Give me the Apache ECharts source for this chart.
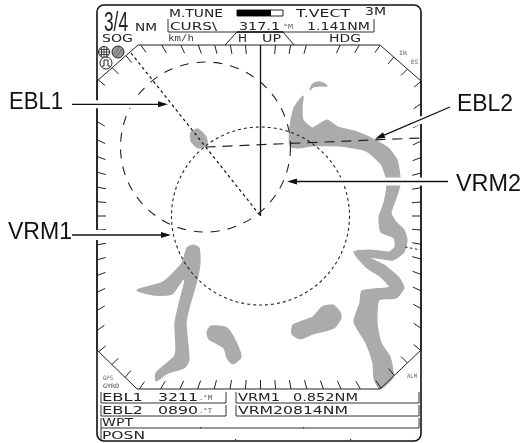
<!DOCTYPE html>
<html><head><meta charset="utf-8">
<style>html,body{margin:0;padding:0;background:#fff}#c{width:523px;height:443px}</style>
<script src="https://cdn.jsdelivr.net/npm/echarts@6/dist/echarts.min.js"></script>
</head><body><div id="c"></div>
<script>
// Land echoes (picture coordinates)
const landTop = [[310,90],[312,85],[317,82],[323,83],[327,86],[320,86],[313,87]];
const landRight = [[303,96],[302,107],[303,120],[312,128],[318,125],[327,120],[338,127],[357,132],[373,139],[388,148],[397,160],[400,177],[400,185],[396,198],[391,213],[396,222],[404,230],[407,240],[404,252],[393,260],[383,259],[368,257],[384,265],[399,278],[404,288],[396,298],[379,300],[377,323],[381,343],[390,357],[393,377],[380,389],[374,378],[373,363],[366,343],[354,322],[360,303],[362,291],[386,288],[390,287],[381,277],[366,267],[354,252],[370,250],[389,252],[395,247],[394,238],[381,232],[379,217],[384,203],[387,185],[386,177],[381,164],[366,151],[340,146],[312,146],[298,148],[290,146],[290,127],[294,108]];
const landLeft = [[137,290],[163,282],[182,263],[187,248],[193,245],[199,248],[200,263],[197,280],[189,308],[186,323],[189,360],[184,368],[168,373],[156,381],[156,373],[174,357],[176,350],[175,323],[180,300],[185,280],[183,279],[172,294],[153,295]];
const landHook = [[207,332],[211,326],[227,328],[236,342],[241,357],[233,364],[227,358],[224,348],[209,339]];
const landBlob = [[322,307],[333,305],[340,312],[341,318],[334,328],[313,334],[300,339],[292,334],[293,325],[313,317]];
const landIsle = [[191,132],[198,129],[206,137],[207,145],[198,148],[191,141]];
const lands = [landTop, landRight, landLeft, landHook, landBlob, landIsle];

// Radar geometry
const ownShip = [260.5, 216];
const ebl1Origin = [205.5, 147];
const vrm1Radius = 85;
const vrm2Radius = 89;
const octagon = [[138,45],[380,45],[421,81],[421,350],[380,389],[137,389],[97,350],[97,81]];
const tickBearings = [5,10,15,25,30,35,40,45,50,55,60,65,70,75,80,85,90,95,100,105,110,115,120,125,130,135,140,145,150,155,160,165,170,175,180,185,190,195,200,205,210,215,220,225,230,235,240,245,250,255,260,265,270,275,280,285,290,295,300,305,310,315,320,325,330,335,340,345,350,355];

// Lines: points, width, dash, colour
const lineItems = [
  {p:[[260.5,45],ownShip], w:1.3, c:'#111'},
  {p:[[131,53],ownShip], w:1.2, d:[3,3], c:'#111'},
  {p:[ebl1Origin,[420,138]], w:1.2, d:[10,7], c:'#222'},
  {p:[[405,247],[421,250]], w:1, d:[2.5,2.5], c:'#222'},
  {p:octagon.concat([octagon[0]]), w:1, c:'#222'},
  {p:[[225,45],[237,32],[283,32],[294,45]], w:1, c:'#222'},
  {p:[[237,32],[283,32]], w:1.6, c:'#111'},
  {p:[[168,19],[168,32],[374,32],[374,19]], w:1, c:'#333'},
  {p:[[101,392],[101,403],[226,403],[226,392]], w:1, c:'#333'},
  {p:[[101,405],[101,416],[226,416],[226,405]], w:1, c:'#333'},
  {p:[[236,392],[236,403],[419,403],[419,392]], w:1, c:'#333'},
  {p:[[236,405],[236,416],[419,416],[419,405]], w:1, c:'#333'},
  {p:[[101,418],[101,428],[419,428],[419,418]], w:1, c:'#333'},
  {p:[[101,428],[101,441]], w:1, c:'#333'}
];
// White breaks under the arrows
const halos = [
  {p:[[72,104.3],[158,104.3]], w:8},
  {p:[[72,235],[162,235]], w:10},
  {p:[[448,181.5],[300,181.5]], w:8},
  {p:[[440,112],[412,124]], w:7}
];
// Callout arrows
const arrows = [
  [[72,104.3],[168,104.3]],
  [[72,235],[171,235]],
  [[448,181.5],[287,181.5]],
  [[450,107],[375,139]]
];
// Text: string, left x, middle y, width, font size, family, colour
const MONO = '"DejaVu Sans Mono"', SANS = '"DejaVu Sans"', HELV = '"Liberation Sans"';
const textItems = [
  ['EBL1',9,103,54,23,HELV,'#111'],['EBL2',457,105,56,23,HELV,'#111'],
  ['VRM2',456,184.5,65,23,HELV,'#111'],['VRM1',8,233,64,23,HELV,'#111'],
  ['3/4',104,23,24,28,HELV,'#222'],['NM',135,28,22,10,SANS,'#222'],
  ['M.TUNE',169,14,54,11,SANS,'#222'],['T.VECT',296,14,54,11,SANS,'#222'],['3M',365,12,21,11,SANS,'#222'],
  ['CURS\\',170,27,47,11,SANS,'#222'],['317.1',239,27,41,11,SANS,'#222'],['°M',283,27,10,7,MONO,'#666'],['1.141NM',307,27,63,11,SANS,'#222'],
  ['SOG',102,39,31,11,SANS,'#222'],['km/h',168,39,26,8,MONO,'#444'],['H',238,39,9,11,SANS,'#222'],['UP',262,39,19,11,SANS,'#222'],['HDG',329,39,32,11,SANS,'#222'],
  ['IR',399,53,8,6,MONO,'#555'],['ES',411,62,7,6,MONO,'#555'],
  ['GPS',103,378,10,6,MONO,'#666'],['GYRO',103,386,16,6,MONO,'#444'],['ALM',407,376,10,6,MONO,'#666'],
  ['EBL1',102,398,41,11,SANS,'#222'],['3211',158,398,40,11,SANS,'#222'],['.°M',199,398,13,7,MONO,'#555'],
  ['EBL2',102,411,41,11,SANS,'#222'],['0890',158,411,40,11,SANS,'#222'],['.°T',199,411,13,7,MONO,'#555'],
  ['VRM1',238,398,42,11,SANS,'#222'],['0.852NM',293,398,65,11,SANS,'#222'],
  ['VRM20814NM',238,411,110,11,SANS,'#222'],
  ['WPT',102,423,31,11,SANS,'#222'],['POSN',102,436,43,11,SANS,'#222']
];
const dots = [[200,427],[303,427],[235,439],[350,439]];
const tuneBar = {frame:[[237,10],[283,16]], fill:[[237,10],[271,16]]};
const outerFrame = [[97,5],[421,441]];
const icons = [[104,52,5.5],[118,52,6],[106,63,6]];

const measure = document.createElement('canvas').getContext('2d');

function custom(z, data, render){
  return {type:'custom', coordinateSystem:'cartesian2d', silent:true, clip:false, z:z,
    data:data.map((_,i)=>[i,0]), renderItem:render};
}
function polyEl(api,pts,style){
  return {type:'polyline', shape:{points:pts.map(p=>api.coord(p))},
    style:Object.assign({fill:null,stroke:'#222',lineWidth:1},style)};
}
function tickEnd(b){
  const r = b*Math.PI/180, dx=Math.sin(r), dy=-Math.cos(r);
  let best=Infinity;
  for(let i=0;i<octagon.length;i++){
    const a=octagon[i], c=octagon[(i+1)%octagon.length];
    const ex=c[0]-a[0], ey=c[1]-a[1];
    const den=dx*ey-dy*ex; if(Math.abs(den)<1e-9) continue;
    const ax=a[0]-ownShip[0], ay=a[1]-ownShip[1];
    const t=(ax*ey-ay*ex)/den, u=(ax*dy-ay*dx)/den;
    if(t>0&&u>=-1e-6&&u<=1+1e-6&&t<best) best=t;
  }
  return [[ownShip[0]+dx*best,ownShip[1]+dy*best],[ownShip[0]+dx*(best-9),ownShip[1]+dy*(best-9)]];
}

const series = [
  custom(1, lands, (p,api)=>({type:'polygon',
    shape:{points:lands[p.dataIndex].map(q=>api.coord(q)), smooth:0.2},
    style:{fill:'#ababab',stroke:'#ababab',lineWidth:1.2}})),
  custom(2, lineItems, (p,api)=>{const l=lineItems[p.dataIndex];
    return polyEl(api,l.p,{stroke:l.c,lineWidth:l.w,lineDash:l.d||null});}),
  custom(2, tickBearings, (p,api)=>polyEl(api,tickEnd(tickBearings[p.dataIndex]),{stroke:'#222',lineWidth:1})),
  custom(2, [0,1], (p,api)=>{
    const i=p.dataIndex, c=api.coord(i?ownShip:ebl1Origin);
    return {type:'circle',shape:{cx:c[0],cy:c[1],r:i?vrm2Radius:vrm1Radius},
      style:{fill:null,stroke:'#222',lineWidth:1.1,lineDash:i?[3,3]:[9,8]}};}),
  custom(3, [0], (p,api)=>{
    const a=api.coord(outerFrame[0]), b=api.coord(outerFrame[1]);
    return {type:'rect',shape:{x:a[0],y:a[1],width:b[0]-a[0],height:b[1]-a[1],r:7},
      style:{fill:null,stroke:'#111',lineWidth:1.6}};}),
  custom(4, halos, (p,api)=>{const h=halos[p.dataIndex];
    return polyEl(api,h.p,{stroke:'#fff',lineWidth:h.w});}),
  custom(5, arrows, (p,api)=>{
    const a=api.coord(arrows[p.dataIndex][0]), b=api.coord(arrows[p.dataIndex][1]);
    const L=Math.hypot(b[0]-a[0],b[1]-a[1]), ux=(b[0]-a[0])/L, uy=(b[1]-a[1])/L;
    const bx=b[0]-ux*10, by=b[1]-uy*10;
    return {type:'group',children:[
      {type:'line',shape:{x1:a[0],y1:a[1],x2:bx,y2:by},style:{stroke:'#111',lineWidth:1.3}},
      {type:'polygon',shape:{points:[b,[bx-uy*3,by+ux*3],[bx+uy*3,by-ux*3]]},style:{fill:'#111'}}
    ]};}),
  custom(5, [0,1], (p,api)=>{
    const r=p.dataIndex?tuneBar.fill:tuneBar.frame, a=api.coord(r[0]), b=api.coord(r[1]);
    return {type:'rect',shape:{x:a[0],y:a[1],width:b[0]-a[0],height:b[1]-a[1]},
      style:p.dataIndex?{fill:'#000'}:{fill:'#fff',stroke:'#222',lineWidth:1}};}),
  custom(5, dots, (p,api)=>{const c=api.coord(dots[p.dataIndex]);
    return {type:'rect',shape:{x:c[0],y:c[1],width:1.2,height:1.2},style:{fill:'#333'}};}),
  custom(5, icons, (p,api)=>{
    const i=p.dataIndex, k=icons[i], c=api.coord(k), r=k[2], ch=[
      {type:'circle',shape:{cx:c[0],cy:c[1],r:r},style:{fill:'#fff',stroke:'#222',lineWidth:1}}];
    const ln=(x1,y1,x2,y2,col)=>({type:'line',shape:{x1:c[0]+x1,y1:c[1]+y1,x2:c[0]+x2,y2:c[1]+y2},style:{stroke:col||'#222',lineWidth:0.8}});
    if(i===0){ch.push(ln(-r,0,r,0),ln(0,-r,0,r),ln(-4.5,-2.5,4.5,-2.5),ln(-4.5,2.5,4.5,2.5),ln(-2.5,-4.5,-2.5,4.5),ln(2.5,-4.5,2.5,4.5));}
    if(i===1){ch[0].style.fill='#999';ch.push(ln(-4,3,1,-5,'#555'),ln(-2,5,4,-3,'#555'));}
    if(i===2){ch.push({type:'polyline',shape:{points:[[c[0]-4,c[1]+3],[c[0]-2,c[1]+3],[c[0]-2,c[1]-3],[c[0]+2,c[1]-3],[c[0]+2,c[1]+3],[c[0]+4,c[1]+3]]},style:{fill:null,stroke:'#222',lineWidth:1}});}
    return {type:'group',children:ch};}),
  custom(6, textItems, (p,api)=>{
    const t=textItems[p.dataIndex], c=api.coord([t[1],t[2]]);
    measure.font=t[4]+'px '+t[5];
    return {type:'text',x:c[0],y:c[1],scaleX:t[3]/measure.measureText(t[0]).width,
      style:{text:t[0],fontSize:t[4],fontFamily:t[5],fill:t[6],align:'left',verticalAlign:'middle'}};})
];

const chart = echarts.init(document.getElementById('c'),null,{renderer:'canvas'});
chart.setOption({animation:false,backgroundColor:'#fff',
  grid:{left:0,right:0,top:0,bottom:0},
  xAxis:{type:'value',min:0,max:523,show:false},
  yAxis:{type:'value',min:0,max:443,inverse:true,show:false},
  series:series});
</script></body></html>
